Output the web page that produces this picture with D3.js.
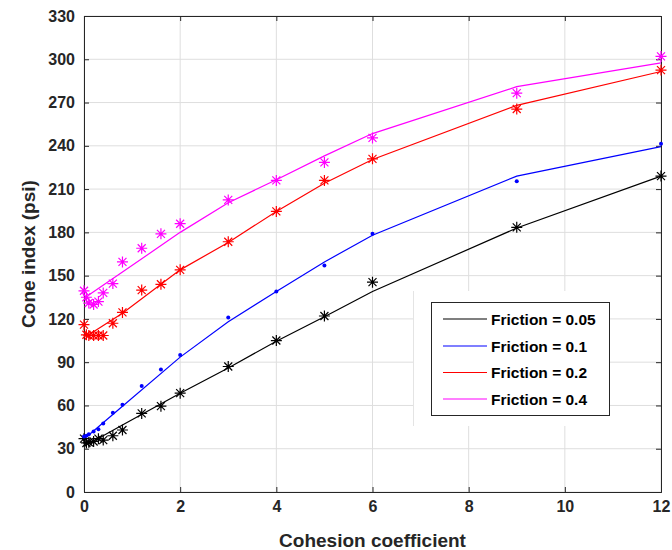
<!DOCTYPE html>
<html>
<head>
<meta charset="utf-8">
<script src="https://cdn.jsdelivr.net/npm/d3@7"></script>
<style>
  body { margin: 0; background: #fff; }
  text { font-family: "Liberation Sans", Arial, sans-serif; font-weight: bold; fill: #262626; }
</style>
</head>
<body>
<div id="chart"></div>
<script>
"use strict";

// measured points (markers)
const xPts = [0, 0.05, 0.1, 0.2, 0.3, 0.4, 0.6, 0.8, 1.2, 1.6, 2, 3, 4, 5, 6, 9, 12];
const pts005 = [37, 34, 34.5, 35, 37, 36, 39, 43, 54.5, 59.5, 68.5, 87, 105, 122, 145.5, 183.5, 219];
const pts01 = [38.5, 39, 40, 42, 43.5, 47.5, 55, 60.5, 73.5, 85, 95, 121, 139, 157, 179, 215.5, 241.5];
const pts02 = [116, 109, 108.5, 108.5, 108.5, 108.5, 117, 124.5, 140, 144, 154, 173.5, 194.5, 216, 231, 265.5, 292.5];
const pts04 = [139.5, 135, 131, 130, 132, 138, 144.5, 159.5, 169, 179, 186, 202.5, 216, 228.5, 245.5, 276.5, 302];

// model curves (lines)
const xLine = [0.1, 0.8, 2, 3, 4, 5, 6, 9, 12];
const line005 = [33.5, 46.5, 68.5, 86, 104.5, 121.5, 139, 183, 219];
const line01 = [39.5, 59.5, 93.5, 118, 139, 159.5, 178, 219, 239.5];
const line02 = [109, 124, 154, 173, 194.5, 214, 230.5, 268, 291.5];
const line04 = [136.5, 152.5, 180, 200.5, 216.5, 233, 248.5, 281, 297.5];

const xTicks = [0, 2, 4, 6, 8, 10, 12];
const yTicks = d3.range(0, 331, 30);

const series = [
  { name: "Friction = 0.05", color: "#000000", marker: "star", pts: pts005, line: line005 },
  { name: "Friction = 0.1", color: "#0000ff", marker: "dot", pts: pts01, line: line01 },
  { name: "Friction = 0.2", color: "#ff0000", marker: "star", pts: pts02, line: line02 },
  { name: "Friction = 0.4", color: "#ff00ff", marker: "star", pts: pts04, line: line04 },
];

const width = 672;
const height = 550;
const pLeft = 84, pRight = 661, pTop = 16, pBottom = 492;

const svg = d3.select("#chart").append("svg")
  .attr("width", width)
  .attr("height", height);

const x = d3.scaleLinear().domain([0, 12]).range([pLeft, pRight]);
const y = d3.scaleLinear().domain([0, 330]).range([pBottom, pTop]);

// grid
svg.append("g")
  .selectAll("line")
  .data(xTicks)
  .join("line")
  .attr("x1", (d) => x(d)).attr("x2", (d) => x(d))
  .attr("y1", pTop).attr("y2", pBottom)
  .attr("stroke", "#dedede");

svg.append("g")
  .selectAll("line")
  .data(yTicks)
  .join("line")
  .attr("x1", pLeft).attr("x2", pRight)
  .attr("y1", (d) => y(d)).attr("y2", (d) => y(d))
  .attr("stroke", "#dedede");

// white patch behind the legend (as in the picture)
svg.append("rect")
  .attr("x", 413).attr("y", 291)
  .attr("width", 197).attr("height", 135)
  .attr("fill", "#fff");
svg.append("line")
  .attr("x1", 413.5).attr("x2", 413.5)
  .attr("y1", 291).attr("y2", 426)
  .attr("stroke", "#e4e4e4");

// axes with inside ticks (box on)
const axB = d3.axisBottom(x).tickValues(xTicks).tickSize(-5).tickPadding(9);
const axL = d3.axisLeft(y).tickValues(yTicks).tickSize(-5).tickPadding(9);
const axT = d3.axisTop(x).tickValues(xTicks).tickSize(-5).tickFormat("");
const axR = d3.axisRight(y).tickValues(yTicks).tickSize(-5).tickFormat("");

function styleAxis(g) {
  g.select(".domain").attr("stroke", "#262626");
  g.selectAll(".tick line").attr("stroke", "#262626");
  g.selectAll(".tick text")
    .style("font-size", "16px")
    .style("font-weight", "bold")
    .attr("fill", "#262626");
}

svg.append("g").attr("transform", `translate(0,${pBottom})`).call(axB).call(styleAxis);
svg.append("g").attr("transform", `translate(${pLeft},0)`).call(axL).call(styleAxis);
svg.append("g").attr("transform", `translate(0,${pTop})`).call(axT).call(styleAxis);
svg.append("g").attr("transform", `translate(${pRight},0)`).call(axR).call(styleAxis);

// lines
const line = d3.line()
  .x((d) => x(d[0]))
  .y((d) => y(d[1]));

series.forEach((s) => {
  svg.append("path")
    .datum(xLine.map((v, i) => [v, s.line[i]]))
    .attr("d", line)
    .attr("fill", "none")
    .attr("stroke", s.color)
    .attr("stroke-width", 1.2);
});

// markers
const starPath = "M-5.5,0H5.5M0,-5.5V5.5M-4,-4L4,4M-4,4L4,-4";

series.forEach((s) => {
  const g = svg.append("g");
  const data = xPts.map((v, i) => [v, s.pts[i]]);
  if (s.marker === "star") {
    g.selectAll("path")
      .data(data)
      .join("path")
      .attr("transform", (d) => `translate(${x(d[0])},${y(d[1])})`)
      .attr("d", starPath)
      .attr("fill", "none")
      .attr("stroke", s.color)
      .attr("stroke-width", 1.2);
  } else {
    g.selectAll("circle")
      .data(data)
      .join("circle")
      .attr("cx", (d) => x(d[0]))
      .attr("cy", (d) => y(d[1]))
      .attr("r", 2)
      .attr("fill", s.color);
  }
});

// axis titles
svg.append("text")
  .attr("x", (pLeft + pRight) / 2)
  .attr("y", 547)
  .attr("text-anchor", "middle")
  .style("font-size", "19px")
  .text("Cohesion coefficient");

svg.append("text")
  .attr("transform", `translate(35,${(pTop + pBottom) / 2}) rotate(-90)`)
  .attr("text-anchor", "middle")
  .style("font-size", "19px")
  .text("Cone index (psi)");

// legend
const lg = svg.append("g");
lg.append("rect")
  .attr("x", 431.5).attr("y", 302.5)
  .attr("width", 178).attr("height", 113)
  .attr("fill", "#fff")
  .attr("stroke", "#262626");

const rowY = [319, 346, 372.5, 399];
series.forEach((s, i) => {
  lg.append("line")
    .attr("x1", 443).attr("x2", 487)
    .attr("y1", rowY[i]).attr("y2", rowY[i])
    .attr("stroke", s.color)
    .attr("stroke-width", 1.2);
  lg.append("text")
    .attr("x", 491)
    .attr("y", rowY[i] + 5.5)
    .style("font-size", "15.5px")
    .style("fill", "#000")
    .text(s.name);
});
</script>
</body>
</html>
